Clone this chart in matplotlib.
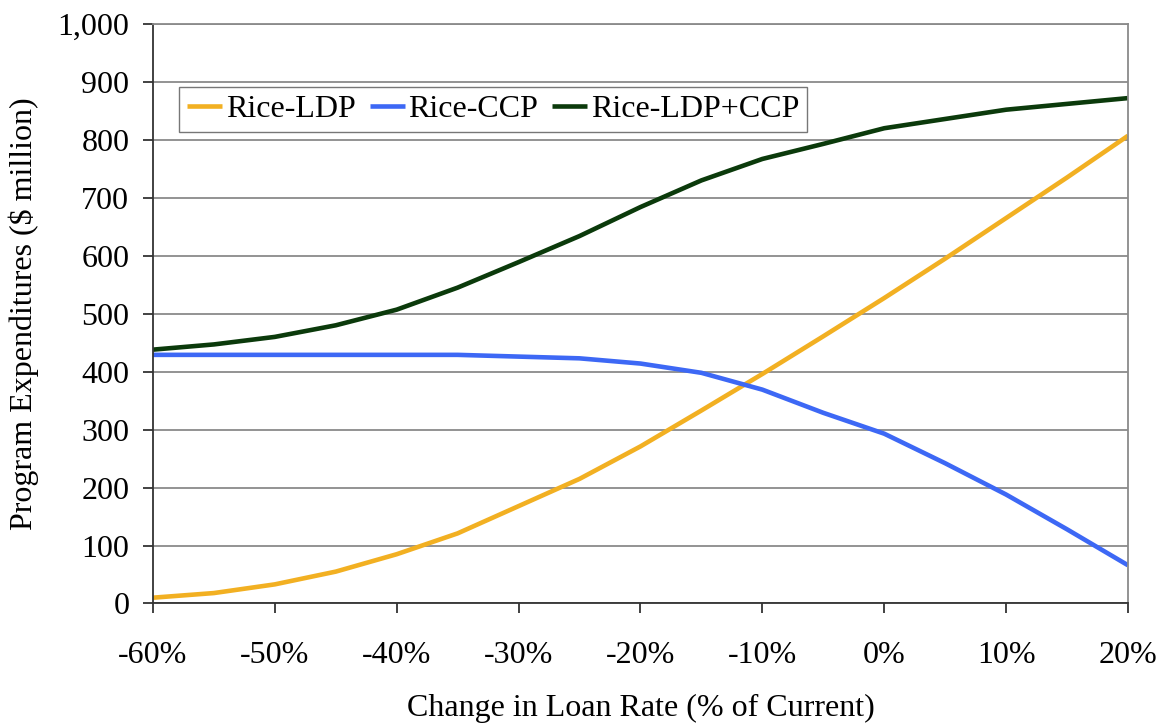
import matplotlib
matplotlib.use('Agg')
import matplotlib.pyplot as plt
from matplotlib.ticker import FuncFormatter

# change in loan rate, % of current
loan_change = [-60, -55, -50, -45, -40, -35, -30, -25, -20, -15, -10, -5, 0, 5, 10, 15, 20]

# program expenditures, $ million
rice_ldp = [10, 18, 33, 55, 85, 121, 168, 215, 271, 333, 396, 461, 527, 595, 665, 735, 807]
rice_ccp = [429, 429, 429, 429, 429, 429, 426, 423, 414, 398, 369, 329, 293, 242, 188, 128, 66]
rice_total = [438, 447, 460, 480, 507, 545, 589, 634, 684, 730, 767, 793, 820, 836, 852, 862, 872]

y_ticks = list(range(0, 1001, 100))
x_ticks = list(range(-60, 21, 10))

plt.rcParams['font.family'] = ['Liberation Serif', 'DejaVu Serif']

fig = plt.figure(figsize=(11.65, 7.25), dpi=100)
ax = fig.add_axes([0.1313, 0.1676, 0.8369, 0.7994])

ax.plot(loan_change, rice_ldp, color='#F2B022', lw=3.3, label='Rice-LDP', solid_capstyle='butt')
ax.plot(loan_change, rice_ccp, color='#3D68F5', lw=3.3, label='Rice-CCP', solid_capstyle='butt')
ax.plot(loan_change, rice_total, color='#0B3A0B', lw=3.3, label='Rice-LDP+CCP', solid_capstyle='butt')

ax.set_xlim(-60, 20)
ax.set_ylim(0, 1000)
ax.set_xticks(x_ticks)
ax.set_yticks(y_ticks)
ax.xaxis.set_major_formatter(FuncFormatter(lambda v, p: '%d%%' % v))
ax.yaxis.set_major_formatter(FuncFormatter(lambda v, p: '{:,}'.format(int(v))))

ax.grid(axis='y', color='#8a8a8a', lw=1.3)
ax.set_axisbelow(True)
for s in ['top', 'right']:
    ax.spines[s].set_color('#8a8a8a')
    ax.spines[s].set_linewidth(1.3)
for s in ['left', 'bottom']:
    ax.spines[s].set_color('#333333')
    ax.spines[s].set_linewidth(1.3)

ax.tick_params(axis='both', direction='out', labelsize=23, colors='#333333', labelcolor='black')
ax.tick_params(axis='y', length=7, width=1.3, pad=10)
ax.tick_params(axis='x', length=7, width=1.3, pad=20)

ax.set_xlabel('Change in Loan Rate (% of Current)', fontsize=23, labelpad=17)
ax.set_ylabel('Program Expenditures ($ million)', fontsize=23, labelpad=13)

leg = ax.legend(loc='upper left', bbox_to_anchor=(0.027, 0.891), ncol=3, fontsize=23,
                frameon=True, fancybox=False, handlelength=1.1, handletextpad=0.1,
                columnspacing=0.45, borderpad=0.25, borderaxespad=0)
leg.get_frame().set_edgecolor('#555555')
leg.get_frame().set_linewidth(1.0)

plt.savefig('out.png', dpi=100)
